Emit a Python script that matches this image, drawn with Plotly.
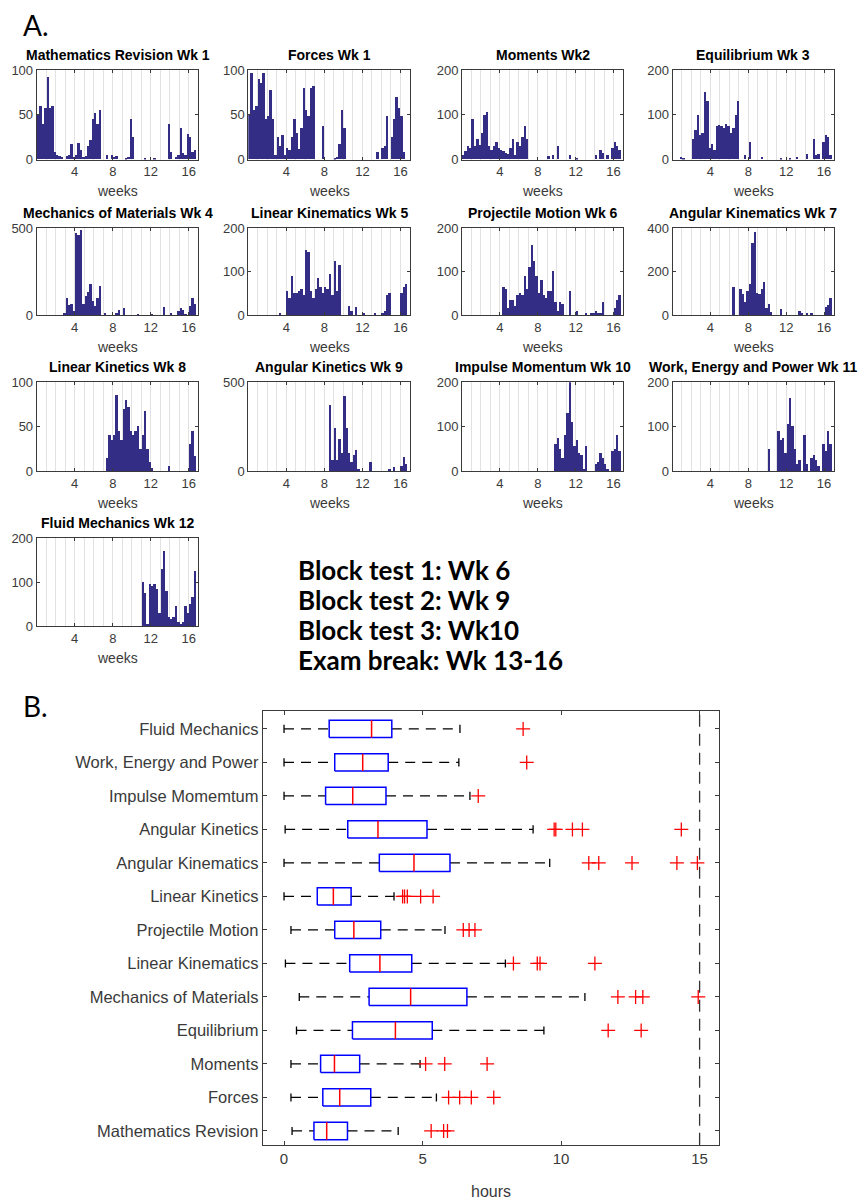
import plotly.graph_objects as go

W, H = 866, 1204
BIN = 0.25          # weeks per histogram bin
LIMIT_HOURS = 15    # dashed reference line in panel B

# ---------------- Panel A data (counts per quarter-week bin, weeks 0-17) ----------------
hist_titles = ["Mathematics Revision Wk 1", "Forces Wk 1", "Moments Wk2", "Equilibrium Wk 3",
               "Mechanics of Materials Wk 4", "Linear Kinematics Wk 5", "Projectile Motion Wk 6",
               "Angular Kinematics Wk 7", "Linear Kinetics Wk 8", "Angular Kinetics Wk 9",
               "Impulse Momentum Wk 10", "Work, Energy and Power Wk 11", "Fluid Mechanics Wk 12"]
hist_ymax = [100, 100, 200, 200, 500, 200, 200, 400, 100, 500, 200, 200, 200]
hist_yticks = [[0, 50, 100], [0, 50, 100], [0, 100, 200], [0, 100, 200], [0, 500],
               [0, 100, 200], [0, 100, 200], [0, 200, 400], [0, 50, 100], [0, 500],
               [0, 100, 200], [0, 100, 200], [0, 100, 200]]
week_ticks = [4, 8, 12, 16]

mathematics_revision = [50, 60, 40, 57, 92, 57, 60, 8, 5, 4, 3, 0, 4, 5, 17, 3,
                        5, 18, 10, 3, 4, 15, 22, 45, 52, 40, 55, 0, 0, 5, 0, 5,
                        3, 4, 0, 0, 0, 2, 3, 45, 25, 0, 0, 0, 0, 1, 0, 0,
                        0, 1, 0, 0, 0, 0, 0, 40, 8, 0, 3, 5, 35, 7, 5, 28,
                        25, 8, 10, 0]
forces = [50, 97, 55, 60, 90, 85, 97, 45, 48, 78, 45, 5, 25, 15, 27, 5,
          13, 10, 25, 45, 30, 12, 35, 80, 55, 48, 80, 82, 0, 0, 0, 37,
          0, 0, 0, 0, 2, 3, 17, 55, 35, 0, 0, 0, 0, 0, 0, 0,
          0, 0, 0, 0, 0, 0, 8, 0, 13, 15, 48, 0, 25, 45, 70, 58,
          48, 8, 0, 0]
moments = [10, 18, 30, 25, 90, 30, 45, 33, 60, 100, 105, 30, 20, 30, 40, 25,
           20, 18, 15, 12, 25, 45, 10, 40, 30, 50, 75, 45, 0, 0, 0, 0,
           0, 0, 0, 0, 8, 0, 10, 0, 30, 0, 0, 0, 0, 10, 0, 0,
           3, 0, 0, 0, 0, 0, 0, 0, 10, 0, 20, 15, 0, 10, 0, 25,
           40, 30, 20, 0]
equilibrium = [0, 0, 0, 5, 3, 0, 0, 0, 45, 65, 100, 55, 60, 150, 130, 25,
               35, 20, 75, 78, 75, 70, 80, 75, 60, 70, 100, 130, 0, 0, 10, 0,
               38, 0, 0, 0, 0, 5, 0, 0, 0, 0, 0, 0, 0, 3, 0, 0,
               0, 3, 0, 0, 5, 0, 0, 0, 12, 0, 0, 45, 10, 12, 0, 40,
               55, 50, 10, 0]
mechanics_of_materials = [0, 0, 0, 0, 0, 0, 0, 0, 0, 0, 0, 10, 100, 55, 60, 20,
                          470, 460, 490, 60, 110, 130, 175, 80, 50, 100, 165, 0, 10, 0, 0, 0,
                          0, 8, 30, 0, 40, 0, 0, 0, 0, 0, 3, 0, 0, 0, 0, 0,
                          5, 0, 0, 0, 0, 45, 0, 0, 10, 0, 0, 25, 40, 30, 5, 0,
                          50, 100, 60, 0]
linear_kinematics = [0, 0, 0, 0, 0, 0, 0, 0, 0, 0, 0, 0, 0, 3, 0, 0,
                     55, 40, 90, 50, 50, 55, 60, 45, 150, 145, 55, 40, 60, 85, 65, 50,
                     65, 60, 95, 45, 125, 55, 115, 0, 0, 0, 20, 10, 0, 18, 0, 0,
                     5, 0, 0, 0, 0, 5, 0, 0, 3, 10, 45, 50, 0, 0, 0, 0,
                     50, 65, 70, 0]
projectile_motion = [0, 0, 0, 0, 0, 0, 0, 0, 0, 0, 0, 0, 0, 0, 0, 0,
                     0, 65, 60, 15, 35, 35, 20, 45, 50, 45, 90, 60, 110, 160, 125, 90,
                     50, 80, 45, 40, 55, 55, 100, 30, 10, 30, 25, 0, 0, 55, 0, 0,
                     10, 0, 0, 0, 3, 0, 3, 5, 8, 5, 3, 30, 0, 0, 0, 0,
                     15, 35, 45, 0]
angular_kinematics = [0, 0, 0, 0, 0, 0, 0, 0, 0, 0, 0, 0, 0, 0, 0, 0,
                      0, 0, 0, 0, 0, 0, 0, 0, 0, 130, 0, 0, 120, 95, 60, 110,
                      140, 330, 380, 100, 95, 120, 150, 30, 50, 15, 0, 0, 0, 25, 0, 0,
                      0, 0, 0, 0, 0, 20, 10, 0, 5, 0, 10, 0, 0, 0, 0, 0,
                      35, 45, 80, 0]
linear_kinetics = [0, 0, 0, 0, 0, 0, 0, 0, 0, 0, 0, 0, 0, 0, 0, 0,
                   0, 0, 0, 0, 0, 0, 0, 0, 0, 0, 0, 0, 0, 15, 40, 35,
                   40, 85, 45, 35, 70, 80, 72, 45, 40, 45, 50, 25, 40, 67, 25, 10,
                   3, 0, 0, 0, 0, 0, 0, 5, 0, 0, 0, 0, 0, 0, 0, 0,
                   30, 45, 17, 0]
angular_kinetics = [0, 0, 0, 0, 0, 0, 0, 0, 0, 0, 0, 0, 0, 0, 0, 0,
                    0, 0, 0, 0, 0, 0, 0, 0, 0, 0, 0, 0, 0, 0, 0, 0,
                    0, 0, 370, 60, 240, 60, 180, 100, 420, 240, 100, 50, 90, 120, 10, 0,
                    0, 0, 0, 50, 0, 0, 0, 0, 0, 0, 0, 10, 0, 20, 0, 0,
                    30, 80, 40, 0]
impulse_momentum = [0, 0, 0, 0, 0, 0, 0, 0, 0, 0, 0, 0, 0, 0, 0, 0,
                    0, 0, 0, 0, 0, 0, 0, 0, 0, 0, 0, 0, 0, 0, 0, 0,
                    0, 0, 0, 0, 0, 0, 0, 60, 75, 50, 30, 80, 130, 200, 110, 55,
                    70, 40, 35, 5, 55, 0, 0, 0, 15, 20, 40, 30, 15, 5, 0, 45,
                    50, 80, 45, 0]
work_energy_power = [0, 0, 0, 0, 0, 0, 0, 0, 0, 0, 0, 0, 0, 0, 0, 0,
                     0, 0, 0, 0, 0, 0, 0, 0, 0, 0, 0, 0, 0, 0, 0, 0,
                     0, 0, 0, 0, 0, 0, 0, 0, 50, 0, 0, 0, 90, 70, 75, 40,
                     105, 165, 100, 50, 15, 25, 0, 80, 15, 0, 30, 35, 25, 10, 0, 60,
                     45, 90, 60, 0]
fluid_mechanics = [0, 0, 0, 0, 0, 0, 0, 0, 0, 0, 0, 0, 0, 0, 0, 0,
                   0, 0, 0, 0, 0, 0, 0, 0, 0, 0, 0, 0, 0, 0, 0, 0,
                   0, 0, 0, 0, 0, 0, 0, 0, 0, 0, 0, 0, 100, 75, 5, 95,
                   90, 95, 85, 30, 130, 170, 80, 20, 15, 20, 45, 10, 5, 10, 45, 30,
                   50, 65, 125, 0]

hist_counts = [mathematics_revision, forces, moments, equilibrium, mechanics_of_materials,
               linear_kinematics, projectile_motion, angular_kinematics, linear_kinetics,
               angular_kinetics, impulse_momentum, work_energy_power, fluid_mechanics]

block_notes = ["Block test 1: Wk 6", "Block test 2: Wk 9", "Block test 3: Wk10", "Exam break: Wk 13-16"]

# ---------------- Panel B data (hours) ----------------
box_topics = ["Mathematics Revision", "Forces", "Moments", "Equilibrium", "Mechanics of Materials",
              "Linear Kinematics", "Projectile Motion", "Linear Kinetics", "Angular Kinematics",
              "Angular Kinetics", "Impulse Momemtum", "Work, Energy and Power", "Fluid Mechanics"]
box_lower = [0.29, 0.25, 0.25, 0.45, 0.55, 0.05, 0.25, 0.0, 0.0, 0.04, 0.0, 0.0, 0.0]
box_q1 = [1.08, 1.40, 1.32, 2.47, 3.07, 2.37, 1.83, 1.20, 3.44, 2.30, 1.50, 1.83, 1.63]
box_median = [1.54, 2.01, 1.82, 4.02, 4.57, 3.46, 2.52, 1.78, 4.69, 3.39, 2.48, 2.84, 3.16]
box_q3 = [2.29, 3.13, 2.73, 5.35, 6.60, 4.61, 3.49, 2.42, 5.99, 5.16, 3.68, 3.76, 3.89]
box_upper = [4.12, 5.50, 4.91, 9.38, 10.86, 7.99, 5.81, 3.97, 9.59, 8.99, 6.71, 6.31, 6.35]
box_outliers = [[5.31, 5.76, 5.90], [5.94, 6.34, 6.76, 7.57], [5.11, 5.80, 7.33], [11.70, 12.89],
                [12.05, 12.69, 12.95, 14.95], [8.28, 9.14, 9.24, 11.22], [6.47, 6.68, 6.89],
                [4.28, 4.35, 4.45, 4.93, 5.38], [11.00, 11.36, 12.56, 14.18, 14.92],
                [9.75, 9.81, 10.41, 10.77, 14.34], [7.01], [8.76], [8.63]]
hours_ticks = [0, 5, 10, 15]

# ---------------- styling / layout ----------------
FONT = "Liberation Sans"
NAVY = "#332D86"
FRAME = "#3A3A3A"
TICKC = "#3A3A3A"
GRID = "#E2E2E2"

col_px = [(36.7, 198.3), (248.3, 410.0), (462.0, 623.0), (672.5, 833.5)]
row_px = [(64, 154.5), (224, 312), (380, 470), (538, 627)]


def xdom(a, b):
    return [a / W, b / W]


def ydom(top, bot):
    return [1 - bot / H, 1 - top / H]


fig = go.Figure()
layout = dict(width=W, height=H, margin=dict(l=0, r=0, t=0, b=0),
              paper_bgcolor="white", plot_bgcolor="white",
              font=dict(family=FONT, color=TICKC, size=13),
              showlegend=False, bargap=0)
annotations = []

for k, counts in enumerate(hist_counts):
    r, c = divmod(k, 4)
    n = k + 1
    xa, ya = f"x{n}", f"y{n}"
    centers = [BIN * (i + 0.5) for i in range(len(counts))]
    fig.add_trace(go.Bar(x=centers, y=counts, width=BIN,
                         marker=dict(color=NAVY, line=dict(width=0)),
                         xaxis=xa, yaxis=ya, hoverinfo="skip"))
    x0, x1 = col_px[c]
    top, bot = row_px[r]
    layout[f"xaxis{n}"] = dict(domain=xdom(x0, x1), anchor=ya, range=[0, 17],
                               tickvals=week_ticks, ticks="inside", ticklen=3, tickcolor=FRAME,
                               showline=True, mirror="ticks", linecolor=FRAME, linewidth=1,
                               showgrid=True, gridcolor=GRID, gridwidth=1, zeroline=False,
                               minor=dict(tick0=0, dtick=1, showgrid=True, gridcolor=GRID, gridwidth=1),
                               tickfont=dict(size=13, color=TICKC))
    layout[f"yaxis{n}"] = dict(domain=ydom(top, bot), anchor=xa, range=[0, hist_ymax[k]],
                               tickvals=hist_yticks[k], ticks="inside", ticklen=3, tickcolor=FRAME,
                               showline=True, mirror="ticks", linecolor=FRAME, linewidth=1,
                               showgrid=False, zeroline=False,
                               tickfont=dict(size=13, color=TICKC))
    annotations.append(dict(text=f"<b>{hist_titles[k]}</b>", x=(x0 + x1) / 2 / W,
                            y=1 - (top - 15) / H, xref="paper", yref="paper",
                            xanchor="center", yanchor="middle", showarrow=False,
                            font=dict(size=14, color="black", family=FONT)))
    annotations.append(dict(text="weeks", x=(x0 + x1) / 2 / W, y=1 - (bot + 32) / H,
                            xref="paper", yref="paper", xanchor="center", yanchor="middle",
                            showarrow=False, font=dict(size=14, color=TICKC, family=FONT)))

# panel labels and notes
annotations.append(dict(text="A.", x=21 / W, y=1 - 18 / H, xref="paper", yref="paper",
                        xanchor="left", yanchor="middle", showarrow=False,
                        font=dict(size=28, color="black", family="Lato")))
annotations.append(dict(text="B.", x=21 / W, y=1 - 708 / H, xref="paper", yref="paper",
                        xanchor="left", yanchor="middle", showarrow=False,
                        font=dict(size=28, color="black", family="Lato")))
for i, note in enumerate(block_notes):
    annotations.append(dict(text=f"<b>{note}</b>", x=296 / W, y=1 - (570 + 30.5 * i) / H,
                            xref="paper", yref="paper", xanchor="left", yanchor="middle",
                            showarrow=False, font=dict(size=26, color="black", family="Lato")))

# ---------------- Panel B box plot ----------------
BX, BY = "x14", "y14"
ypos = list(range(1, len(box_topics) + 1))
BOX_HALF = 0.26
CAP_HALF = 0.12

wx, wy, cx, cy, rx, ry, mx, my, ox, oy = [], [], [], [], [], [], [], [], [], []
for y, lo, q1, med, q3, hi, outs in zip(ypos, box_lower, box_q1, box_median, box_q3, box_upper, box_outliers):
    wx += [lo, q1, None, q3, hi, None]
    wy += [y, y, None, y, y, None]
    cx += [lo, lo, None, hi, hi, None]
    cy += [y - CAP_HALF, y + CAP_HALF, None, y - CAP_HALF, y + CAP_HALF, None]
    rx += [q1, q3, q3, q1, q1, None]
    ry += [y - BOX_HALF, y - BOX_HALF, y + BOX_HALF, y + BOX_HALF, y - BOX_HALF, None]
    mx += [med, med, None]
    my += [y - BOX_HALF, y + BOX_HALF, None]
    ox += outs
    oy += [y] * len(outs)

fig.add_trace(go.Scatter(x=wx, y=wy, mode="lines", xaxis=BX, yaxis=BY,
                         line=dict(color="black", width=1.3, dash="10px,7px"), hoverinfo="skip"))
fig.add_trace(go.Scatter(x=cx, y=cy, mode="lines", xaxis=BX, yaxis=BY,
                         line=dict(color="black", width=1.3), hoverinfo="skip"))
fig.add_trace(go.Scatter(x=rx, y=ry, mode="lines", xaxis=BX, yaxis=BY,
                         line=dict(color="#0000FF", width=1.5), hoverinfo="skip"))
fig.add_trace(go.Scatter(x=mx, y=my, mode="lines", xaxis=BX, yaxis=BY,
                         line=dict(color="#FF0000", width=1.5), hoverinfo="skip"))
fig.add_trace(go.Scatter(x=ox, y=oy, mode="markers", xaxis=BX, yaxis=BY,
                         marker=dict(symbol="cross-thin", size=10, color="#FF0000",
                                     line=dict(color="#FF0000", width=1.3)), hoverinfo="skip"))

layout["xaxis14"] = dict(domain=xdom(262.7, 719), anchor=BY, range=[-0.77, 15.7],
                         tickvals=hours_ticks, ticks="inside", ticklen=4, tickcolor=FRAME,
                         showline=True, mirror="ticks", linecolor=FRAME, linewidth=1,
                         showgrid=False, zeroline=False, tickfont=dict(size=15, color=TICKC))
layout["yaxis14"] = dict(domain=ydom(713, 1152), anchor=BX, range=[0.59, 13.53],
                         tickvals=ypos, ticktext=box_topics, ticks="inside", ticklen=4, tickcolor=FRAME,
                         showline=True, mirror="ticks", linecolor=FRAME, linewidth=1,
                         showgrid=False, zeroline=False, tickfont=dict(size=16.5, color=TICKC))
annotations.append(dict(text="hours", x=(262.7 + 719) / 2 / W, y=1 - 1199 / H,
                        xref="paper", yref="paper", xanchor="center", yanchor="middle",
                        showarrow=False, font=dict(size=16, color=TICKC, family=FONT)))

layout["shapes"] = [dict(type="line", xref=BX, yref="y14 domain", x0=LIMIT_HOURS, x1=LIMIT_HOURS,
                         y0=0, y1=1, line=dict(color="#333333", width=1.3, dash="12px,7px"))]
layout["annotations"] = annotations
fig.update_layout(**layout)
fig.write_html("out.html")
